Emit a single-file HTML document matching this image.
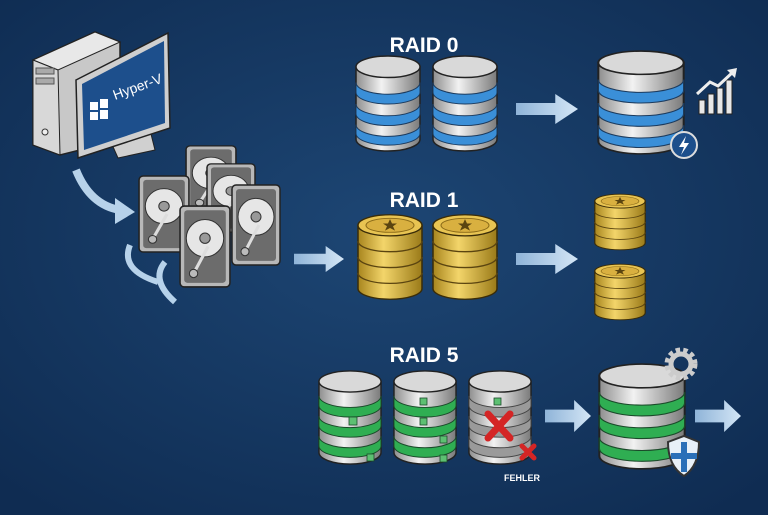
<!DOCTYPE html>
<html><head><meta charset="utf-8"><style>
html,body{margin:0;padding:0;background:#143864;}
svg{display:block}
</style></head><body>
<svg width="768" height="515" viewBox="0 0 768 515" xmlns="http://www.w3.org/2000/svg" font-family="Liberation Sans, sans-serif">
<defs>
<radialGradient id="bg" cx="50%" cy="45%" r="70%"><stop offset="0" stop-color="#1d4674"/><stop offset="1" stop-color="#0f2c52"/></radialGradient>
<linearGradient id="gray" x1="0" x2="1"><stop offset="0" stop-color="#8e8e8e"/><stop offset=".4" stop-color="#f2f2f2"/><stop offset="1" stop-color="#7a7a7a"/></linearGradient>
<linearGradient id="gold" x1="0" x2="1"><stop offset="0" stop-color="#a8851e"/><stop offset=".4" stop-color="#f3d56a"/><stop offset="1" stop-color="#9a7a18"/></linearGradient>
<linearGradient id="arr" x1="0" x2="1"><stop offset="0" stop-color="#8fb4d8"/><stop offset="1" stop-color="#d4e6f6"/></linearGradient>
<symbol id="cb" viewBox="0 0 66 100" preserveAspectRatio="none">
 <path d="M1,12 L1,86 A32,12 0 0 0 65,86 L65,12 Z" fill="url(#gray)" stroke="#222" stroke-width="1.5"/>
 <path d="M1,28 A32,12 0 0 0 65,28 L65,38 A32,12 0 0 1 1,38 Z" fill="#3a8fd8" stroke="#1c3b5e"/>
 <path d="M1,50 A32,12 0 0 0 65,50 L65,60 A32,12 0 0 1 1,60 Z" fill="#3a8fd8" stroke="#1c3b5e"/>
 <path d="M1,71 A32,12 0 0 0 65,71 L65,80 A32,12 0 0 1 1,80 Z" fill="#3a8fd8" stroke="#1c3b5e"/>
 <ellipse cx="33" cy="12" rx="32" ry="11" fill="#d9d9d9" stroke="#222" stroke-width="1.5"/>
</symbol>
<symbol id="cg" viewBox="0 0 66 100" preserveAspectRatio="none">
 <path d="M1,12 L1,86 A32,12 0 0 0 65,86 L65,12 Z" fill="url(#gray)" stroke="#222" stroke-width="1.5"/>
 <path d="M1,27 A32,12 0 0 0 65,27 L65,37 A32,12 0 0 1 1,37 Z" fill="#2fae52" stroke="#1b4a2a"/>
 <path d="M1,48 A32,12 0 0 0 65,48 L65,58 A32,12 0 0 1 1,58 Z" fill="#2fae52" stroke="#1b4a2a"/>
 <path d="M1,69 A32,12 0 0 0 65,69 L65,79 A32,12 0 0 1 1,79 Z" fill="#2fae52" stroke="#1b4a2a"/>
 <ellipse cx="33" cy="12" rx="32" ry="11" fill="#d9d9d9" stroke="#222" stroke-width="1.5"/>
</symbol>
<symbol id="cx" viewBox="0 0 66 100" preserveAspectRatio="none">
 <path d="M1,12 L1,86 A32,12 0 0 0 65,86 L65,12 Z" fill="url(#gray)" stroke="#222" stroke-width="1.5"/>
 <path d="M1,27 A32,12 0 0 0 65,27 L65,37 A32,12 0 0 1 1,37 Z" fill="#9a9a9a" stroke="#444"/>
 <path d="M1,48 A32,12 0 0 0 65,48 L65,58 A32,12 0 0 1 1,58 Z" fill="#9a9a9a" stroke="#444"/>
 <path d="M1,69 A32,12 0 0 0 65,69 L65,79 A32,12 0 0 1 1,79 Z" fill="#9a9a9a" stroke="#444"/>
 <ellipse cx="33" cy="12" rx="32" ry="11" fill="#d9d9d9" stroke="#222" stroke-width="1.5"/>
</symbol>
<symbol id="coin" viewBox="0 0 66 100" preserveAspectRatio="none">
 <path d="M1,14 L1,86 A32,12 0 0 0 65,86 L65,14 Z" fill="url(#gold)" stroke="#3a2c08" stroke-width="1.5"/>
 <path d="M1,32 A32,12 0 0 0 65,32 M1,50 A32,12 0 0 0 65,50 M1,68 A32,12 0 0 0 65,68" fill="none" stroke="#5a4410" stroke-width="1.5"/>
 <ellipse cx="33" cy="14" rx="32" ry="12" fill="#e8c452" stroke="#3a2c08" stroke-width="1.5"/>
 <ellipse cx="33" cy="14" rx="24" ry="8" fill="#d9b040" stroke="#8a6a18"/>
 <polygon points="33,7 35,12 40,12 36,15 38,20 33,17 28,20 30,15 26,12 31,12" fill="#5a4410"/>
</symbol>
<symbol id="hdd" viewBox="0 0 50 80" preserveAspectRatio="none">
 <rect x="1" y="1" width="48" height="78" rx="4" fill="#b8b8b8" stroke="#222" stroke-width="1.5"/>
 <rect x="5" y="5" width="40" height="70" rx="3" fill="#6c6c6c"/>
 <circle cx="25" cy="32" r="18" fill="#e6e6e6" stroke="#333"/>
 <circle cx="25" cy="32" r="5" fill="#999" stroke="#333"/>
 <path d="M14,66 L28,40" stroke="#ddd" stroke-width="3"/>
 <circle cx="14" cy="66" r="4" fill="#bbb" stroke="#333"/>
</symbol>
<symbol id="ar" viewBox="0 0 60 30" preserveAspectRatio="none">
 <path d="M0,9 L38,9 L38,0 L60,15 L38,30 L38,21 L0,21 Z" fill="url(#arr)"/>
</symbol>
</defs>
<rect width="768" height="515" fill="url(#bg)"/>

<!-- PC -->
<polygon points="33,60 95,32 120,42 120,140 60,155 33,145" fill="#c8c8c8" stroke="#222" stroke-width="1.5"/>
<polygon points="33,60 95,32 120,42 58,70" fill="#e8e8e8" stroke="#222"/>
<polygon points="33,60 58,70 60,155 33,145" fill="#d8d8d8" stroke="#222"/>
<rect x="36" y="68" width="18" height="6" fill="#aaa" stroke="#555"/>
<rect x="36" y="78" width="18" height="6" fill="#aaa" stroke="#555"/>
<circle cx="45" cy="132" r="3" fill="#eee" stroke="#333"/>
<polygon points="110,140 150,130 155,150 118,158" fill="#d0d0d0" stroke="#222"/>
<polygon points="76,80 168,33 170,128 78,158" fill="#cfcfcf" stroke="#222" stroke-width="1.5"/>
<polygon points="82,84 164,41 165,123 84,150" fill="#1d4f8c"/>
<g fill="#fff"><rect x="90" y="102" width="8" height="8"/><rect x="100" y="99" width="8" height="9"/><rect x="90" y="112" width="8" height="8"/><rect x="100" y="110" width="8" height="9"/></g>
<text x="115" y="100" fill="#fff" font-size="14" transform="rotate(-20 115 100)">Hyper-V</text>

<!-- arrows curved -->
<path d="M76,170 Q90,205 120,210" fill="none" stroke="#b7d2ea" stroke-width="8"/>
<polygon points="115,198 135,212 115,224" fill="#b7d2ea"/>
<path d="M130,245 Q120,270 158,282" fill="none" stroke="#b7d2ea" stroke-width="6"/>
<path d="M175,302 Q150,280 165,262" fill="none" stroke="#b7d2ea" stroke-width="6"/>

<!-- HDDs -->
<use href="#hdd" x="185" y="145" width="52" height="70"/>
<use href="#hdd" x="206" y="163" width="50" height="70"/>
<use href="#hdd" x="138" y="175" width="52" height="78"/>
<use href="#hdd" x="231" y="184" width="50" height="82"/>
<use href="#hdd" x="179" y="205" width="52" height="83"/>

<use href="#ar" x="294" y="246" width="50" height="26"/>

<!-- RAID 0 -->
<text x="424" y="52" fill="#fff" font-size="21" font-weight="bold" text-anchor="middle">RAID 0</text>
<use href="#cb" x="355" y="55" width="66" height="98"/>
<use href="#cb" x="432" y="55" width="66" height="98"/>
<use href="#ar" x="516" y="94" width="62" height="30"/>
<use href="#cb" x="597" y="50" width="88" height="106"/>
<circle cx="684" cy="145" r="13" fill="#1d4f8c" stroke="#ddd" stroke-width="2"/>
<polygon points="686,136 679,147 684,147 681,155 689,143 684,143" fill="#fff"/>
<g fill="#e8e8e8" stroke="#222" stroke-width="1"><rect x="699" y="100" width="6" height="14"/><rect x="708" y="94" width="6" height="20"/><rect x="717" y="88" width="6" height="26"/><rect x="726" y="80" width="6" height="34"/></g>
<path d="M697,94 L710,82 L718,86 L733,72" fill="none" stroke="#eee" stroke-width="3"/>
<polygon points="727,70 737,68 735,78" fill="#eee"/>

<!-- RAID 1 -->
<text x="424" y="207" fill="#fff" font-size="21" font-weight="bold" text-anchor="middle">RAID 1</text>
<use href="#coin" x="357" y="213" width="66" height="88"/>
<use href="#coin" x="432" y="213" width="66" height="88"/>
<use href="#ar" x="516" y="244" width="62" height="30"/>
<use href="#coin" x="594" y="193" width="52" height="58"/>
<use href="#coin" x="594" y="263" width="52" height="58"/>

<!-- RAID 5 -->
<text x="424" y="362" fill="#fff" font-size="21" font-weight="bold" text-anchor="middle">RAID 5</text>
<use href="#cg" x="318" y="370" width="64" height="96"/>
<use href="#cg" x="393" y="370" width="64" height="96"/>
<use href="#cx" x="468" y="370" width="64" height="96"/>
<g fill="#5dc072" stroke="#1b4a2a" stroke-width=".8">
<rect x="349" y="417" width="8" height="8"/><rect x="367" y="454" width="7" height="7"/>
<rect x="420" y="398" width="7" height="7"/><rect x="420" y="418" width="7" height="7"/><rect x="440" y="436" width="7" height="7"/><rect x="440" y="455" width="7" height="7"/>
<rect x="494" y="398" width="7" height="7"/>
<rect x="634" y="399" width="8" height="8"/><rect x="634" y="420" width="8" height="8"/><rect x="660" y="438" width="8" height="8"/><rect x="660" y="456" width="8" height="8"/>
</g>
<g stroke="#d42525" stroke-width="7" stroke-linecap="round"><path d="M488,414 L510,438 M510,414 L488,438"/><path d="M522,446 L534,458 M534,446 L522,458" stroke-width="5"/></g>
<text x="522" y="481" fill="#fff" font-size="9" font-weight="bold" text-anchor="middle">FEHLER</text>
<use href="#ar" x="545" y="400" width="46" height="32"/>
<use href="#cg" x="598" y="363" width="88" height="108"/>
<circle cx="681" cy="364" r="13" fill="none" stroke="#ccc" stroke-width="7" stroke-dasharray="4 3"/>
<circle cx="681" cy="364" r="10" fill="none" stroke="#ccc" stroke-width="5"/>
<path d="M668,442 L684,436 L699,442 Q699,466 684,476 Q668,466 668,442 Z" fill="#e8f0f8" stroke="#333" stroke-width="2"/>
<path d="M684,442 L684,472 M671,456 L697,456" stroke="#2a6fb8" stroke-width="6"/>
<use href="#ar" x="695" y="400" width="46" height="32"/>
</svg>
</body></html>
